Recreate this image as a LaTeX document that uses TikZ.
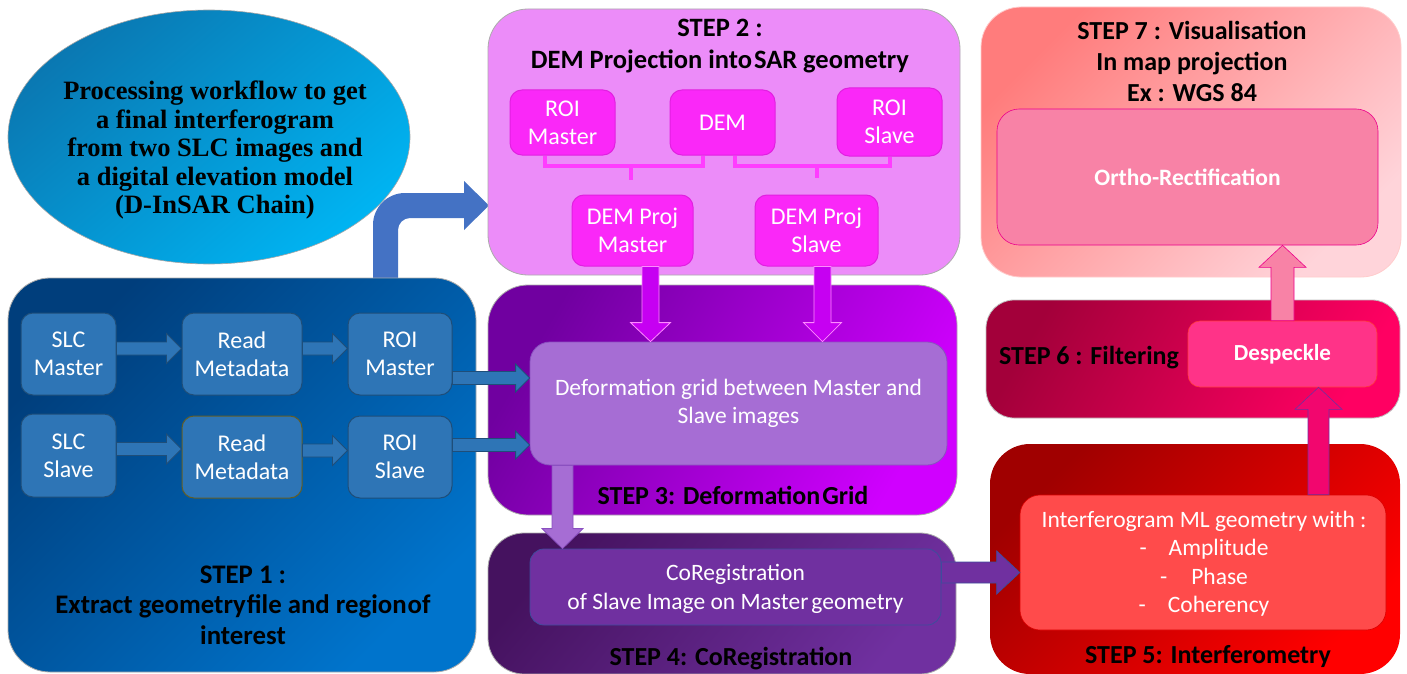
\documentclass[tikz,border=0pt]{standalone}
\usepackage{fontspec}
\setmainfont{Carlito}
\newfontfamily\headserif{Liberation Serif}
\usetikzlibrary{calc,shapes.geometric}

% palette
\definecolor{ellA}{HTML}{0A78B2}
\definecolor{ellB}{HTML}{00B4F2}
\definecolor{sOneA}{HTML}{003E7C}
\definecolor{sOneB}{HTML}{0074CC}
\definecolor{boxBlue}{HTML}{2E75B6}
\definecolor{boxBlueLine}{HTML}{1F4E79}
\definecolor{bendBlue}{HTML}{4472C4}
\definecolor{sTwo}{HTML}{EC8CF9}
\definecolor{magBox}{HTML}{FA28F8}
\definecolor{magLine}{HTML}{FF3CFF}
\definecolor{sThreeA}{HTML}{7000A0}
\definecolor{sThreeB}{HTML}{D000FF}
\definecolor{violetArrow}{HTML}{C600F2}
\definecolor{lilac}{HTML}{A66DD4}
\definecolor{lilacLine}{HTML}{8A50C0}
\definecolor{sFourA}{HTML}{45125F}
\definecolor{sFourB}{HTML}{7030A0}
\definecolor{purpleBox}{HTML}{7030A0}
\definecolor{purpleLine}{HTML}{3F4C9C}
\definecolor{sFiveA}{HTML}{A00000}
\definecolor{sFiveB}{HTML}{FF0000}
\definecolor{redBox}{HTML}{FF4B4B}
\definecolor{sSixA}{HTML}{A3003A}
\definecolor{sSixB}{HTML}{FF0062}
\definecolor{hotPink}{HTML}{F2066E}
\definecolor{despBox}{HTML}{FF3388}
\definecolor{sSevenA}{HTML}{FF7C7C}
\definecolor{sSevenB}{HTML}{FFD4DA}
\definecolor{rosePink}{HTML}{F882A6}

% horizontal block arrow: style, start, end, shaft half, head half, head length
\newcommand\hblock[6]{\path[#1] let \p1=#2, \p2=#3 in
  (\x1,\y1+#4) -- (\x2-#6,\y1+#4) -- (\x2-#6,\y1+#5) -- (\x2,\y1)
  -- (\x2-#6,\y1-#5) -- (\x2-#6,\y1-#4) -- (\x1,\y1-#4) -- cycle;}
% downward block arrow
\newcommand\dblock[6]{\path[#1] let \p1=#2, \p2=#3 in
  (\x1-#4,\y1) -- (\x1-#4,\y2+#6) -- (\x1-#5,\y2+#6) -- (\x1,\y2)
  -- (\x1+#5,\y2+#6) -- (\x1+#4,\y2+#6) -- (\x1+#4,\y1) -- cycle;}
% upward block arrow
\newcommand\ublock[6]{\path[#1] let \p1=#2, \p2=#3 in
  (\x1-#4,\y1) -- (\x1-#4,\y2-#6) -- (\x1-#5,\y2-#6) -- (\x1,\y2)
  -- (\x1+#5,\y2-#6) -- (\x1+#4,\y2-#6) -- (\x1+#4,\y1) -- cycle;}

\begin{document}
\begin{tikzpicture}[x=1pt,y=-1pt,
  stepbox/.style={draw=gray!65, line width=0.8pt, inner sep=0pt},
  inbox/.style={rounded corners=12pt, inner sep=0pt, line width=1pt, text=white,
    align=center, font=\fontsize{24}{28}\selectfont},
  steptitle/.style={font=\bfseries\fontsize{26}{31}\selectfont, align=center, text=black, inner sep=0pt},
  bodytext/.style={text=white, align=center, font=\fontsize{23.5}{28.5}\selectfont, inner sep=0pt},
  bracket/.style={draw=magLine, line width=3.5pt},
  blueblk/.style={fill=boxBlue, draw=boxBlueLine, line width=0.8pt},
  violetblk/.style={fill=violetArrow, draw=magLine!60!white, line width=0.8pt},
]
\useasboundingbox (0,0) rectangle (1407,674);
\fill[white] (0,0) rectangle (1407,674);

% title ellipse
\node[ellipse, draw=gray!70, line width=0.6pt, top color=ellA, bottom color=ellB, shading angle=40,
  minimum width=402pt, minimum height=254pt, inner sep=0pt] (ell) at (209,137) {};
\node[align=center, inner sep=0pt, font=\headserif\bfseries\fontsize{26.5}{28.5}\selectfont] (elltext) at (215,150)
  {Processing workflow to get\\a final interferogram\\from two SLC images and\\a digital elevation model\\(D-InSAR Chain)};

% bent arrow from step 1 up into step 2
\coordinate (bendstart) at (385.5,290);
\coordinate (bendtip) at (489,205.5);
\fill[bendBlue] let \p1=(bendstart), \p2=(bendtip) in
  (\x1-12.5pt,\y1) -- (\x1-12.5pt,\y2+12.5pt-32pt)
  arc[start angle=180, end angle=90, radius=32pt]
  -- (\x2-25pt,\y2+12.5pt) -- (\x2-25pt,\y2+24.5pt) -- (\x2,\y2)
  -- (\x2-25pt,\y2-24.5pt) -- (\x2-25pt,\y2-12.5pt) -- (\x1+24.5pt,\y2-12.5pt)
  arc[start angle=90, end angle=180, radius=12pt]
  -- (\x1+12.5pt,\y1) -- cycle;

% ---------- STEP 1 ----------
\node[stepbox, rounded corners=42pt, top color=sOneA, bottom color=sOneB, shading angle=45,
  minimum width=468pt, minimum height=394pt] (step1) at (242,475) {};
\node[inbox, fill=boxBlue, draw=boxBlueLine, minimum width=95pt, minimum height=82pt] (slcm) at (68.5,354) {SLC\\Master};
\node[inbox, fill=boxBlue, draw=boxBlueLine, minimum width=120pt, minimum height=82pt] (rdm) at (242,354) {Read\\Metadata};
\node[inbox, fill=boxBlue, draw=boxBlueLine, minimum width=104pt, minimum height=82pt] (roim) at (400,354) {ROI\\Master};
\node[inbox, fill=boxBlue, draw=boxBlueLine, minimum width=95pt, minimum height=83pt] (slcs) at (68.5,455.5) {SLC\\Slave};
\node[inbox, fill=boxBlue, draw=olive!60!black, minimum width=120pt, minimum height=82pt] (rds) at (242,457) {Read\\Metadata};
\node[inbox, fill=boxBlue, draw=boxBlueLine, minimum width=104pt, minimum height=82pt] (rois) at (400,457) {ROI\\Slave};
\node[steptitle, font=\bfseries\fontsize{26.8}{30.5}\selectfont] (t1) at (243,605)
  {STEP 1 :\\Extract geometry\hspace{1pt}file and region\hspace{1pt}of\\interest};

\hblock{blueblk}{([yshift=5.5pt]slcm.east)}{(rdm.west)}{6.5pt}{15pt}{15pt}
\hblock{blueblk}{([yshift=5.5pt]rdm.east)}{(roim.west)}{6.5pt}{15pt}{15pt}
\hblock{blueblk}{([yshift=6.5pt]slcs.east)}{(rds.west)}{6.5pt}{15pt}{15pt}
\hblock{blueblk}{([yshift=6.5pt]rds.east)}{(rois.west)}{6.5pt}{15pt}{15pt}

% ---------- STEP 2 ----------
\node[stepbox, rounded corners=40pt, fill=sTwo, minimum width=472pt, minimum height=266pt] (step2) at (724,142) {};
\node[steptitle, font=\bfseries\fontsize{26.5}{32}\selectfont] (t2) at (720,46) {STEP 2 :\\DEM Projection into\hspace{2pt}SAR geometry};
\node[inbox, fill=magBox, draw=magBox!80!violet, minimum width=105pt, minimum height=65pt] (roim2) at (562.5,122.5) {ROI\\Master};
\node[inbox, fill=magBox, draw=magBox!80!violet, minimum width=105pt, minimum height=65pt] (dem) at (722.5,122.5) {DEM};
\node[inbox, fill=magBox, draw=magBox!80!violet, minimum width=105pt, minimum height=68pt] (rois2) at (889.5,122) {ROI\\Slave};
\node[inbox, fill=magBox, draw=magBox!80!violet, minimum width=121pt, minimum height=71pt] (dpm) at (632.5,230.5) {DEM Proj\\Master};
\node[inbox, fill=magBox, draw=magBox!80!violet, minimum width=123pt, minimum height=71pt] (dps) at (816.5,230.5) {DEM Proj\\Slave};

\coordinate (brl) at (631,166);
\coordinate (brr) at (817,166);
\draw[bracket] ([xshift=-17.5pt]roim2.south) |- (brl) -| ([xshift=-19.5pt]dem.south);
\draw[bracket] (brl) -- (brl |- 0,180);
\draw[bracket] ([xshift=12.5pt]dem.south) |- (brr) -| ([xshift=0.5pt]rois2.south);
\draw[bracket] (brr) -- (brr |- 0,178);

% ---------- STEP 3 ----------
\node[stepbox, rounded corners=40pt, top color=sThreeA, bottom color=sThreeB, shading angle=60,
  minimum width=469pt, minimum height=230pt] (step3) at (722.5,400) {};
\node[rounded corners=20pt, fill=lilac, draw=lilacLine, line width=0.8pt, inner sep=0pt,
  minimum width=417pt, minimum height=123pt] (defgrid) at (738.5,403.5) {};
\node[bodytext] (defgridtext) at (defgrid.center) {Deformation grid between Master and\\Slave images};
\node[steptitle] (t3) at (733,495) {STEP 3: Deformation\hspace{2pt}Grid};

\dblock{violetblk}{([xshift=18pt]dpm.south)}{(defgrid.north)}{8.5pt}{20pt}{19pt}
\dblock{violetblk}{([xshift=6pt]dps.south)}{(defgrid.north)}{8.5pt}{19pt}{19pt}
\hblock{blueblk}{([yshift=-24pt]roim.east)}{(defgrid.west)}{6.5pt}{14pt}{14pt}
\hblock{blueblk}{([yshift=12pt]rois.east)}{(defgrid.west)}{6.5pt}{14pt}{14pt}

% ---------- STEP 4 ----------
\node[stepbox, rounded corners=36pt, top color=sFourA, bottom color=sFourB, shading angle=50,
  minimum width=468pt, minimum height=141pt] (step4) at (722,603.5) {};
\node[rounded corners=14pt, fill=purpleBox, draw=purpleLine, line width=0.8pt, inner sep=0pt,
  minimum width=411pt, minimum height=76pt] (coreg) at (735.5,587) {};
\node[bodytext] (coregtext) at (735.5,589) {CoRegistration\\of Slave Image on Master\hspace{3pt}geometry};
\node[steptitle] (t4) at (731,659) {STEP 4: CoRegistration};

\dblock{fill=lilac, draw=lilacLine, line width=0.8pt}{([xshift=-176pt]defgrid.south)}{(coreg.north)}{10.5pt}{20.5pt}{20pt}

% ---------- STEP 5 ----------
\node[stepbox, rounded corners=40pt, top color=sFiveA, bottom color=sFiveB, shading angle=45, draw=none,
  minimum width=410pt, minimum height=230pt] (step5) at (1195,559) {};
\node[rounded corners=20pt, fill=redBox, draw=red!85!black, line width=0.6pt, inner sep=0pt,
  minimum width=366pt, minimum height=135pt] (interf) at (1203,562.5) {};
\node[bodytext] (interftext) at (1204,563.5)
  {Interferogram ML geometry with :\\-\hspace{22pt}Amplitude\\-\hspace{24pt}Phase\\-\hspace{22pt}Coherency};
\node[steptitle] (t5) at (1208,657) {STEP 5: Interferometry};

\hblock{fill=purpleBox, draw=purpleLine, line width=0.8pt}{([yshift=14.5pt]coreg.east)}{(interf.west)}{10.5pt}{21.5pt}{23pt}

% ---------- STEP 6 ----------
\node[stepbox, rounded corners=28pt, top color=sSixA, bottom color=sSixB, shading angle=60, draw=gray!50,
  minimum width=414pt, minimum height=118pt] (step6) at (1193,359) {};
\node[steptitle] (t6) at (1089,358) {STEP 6 : Filtering};
\node[rounded corners=12pt, fill=despBox, draw=red!70!pink, line width=0.6pt, inner sep=0pt, text=white,
  font=\bfseries\fontsize{23}{28}\selectfont, minimum width=189pt, minimum height=66pt] (desp) at (1282.5,354) {Despeckle};

\ublock{fill=hotPink, draw=purpleBox, line width=0.6pt}{([xshift=115.5pt]interf.north)}{(desp.south)}{10.5pt}{23.5pt}{22pt}

% ---------- STEP 7 ----------
\node[stepbox, rounded corners=40pt, top color=sSevenA, bottom color=sSevenB, shading angle=45, draw=pink!80,
  minimum width=420pt, minimum height=270pt] (step7) at (1191,142) {};
\node[steptitle] (t7) at (1192,61.5) {STEP 7 : Visualisation\\In map projection\\Ex : WGS 84};
\node[rounded corners=22pt, fill=rosePink, draw=magenta, line width=0.6pt, inner sep=0pt, text=white,
  font=\bfseries\fontsize{23.5}{28}\selectfont, minimum width=381pt, minimum height=136pt] (ortho) at (1187.5,177) {Ortho-Rectification};

\ublock{fill=rosePink, draw=magenta, line width=0.6pt}{(desp.north)}{(ortho.south)}{11.5pt}{23.5pt}{22pt}
\end{tikzpicture}
\end{document}
